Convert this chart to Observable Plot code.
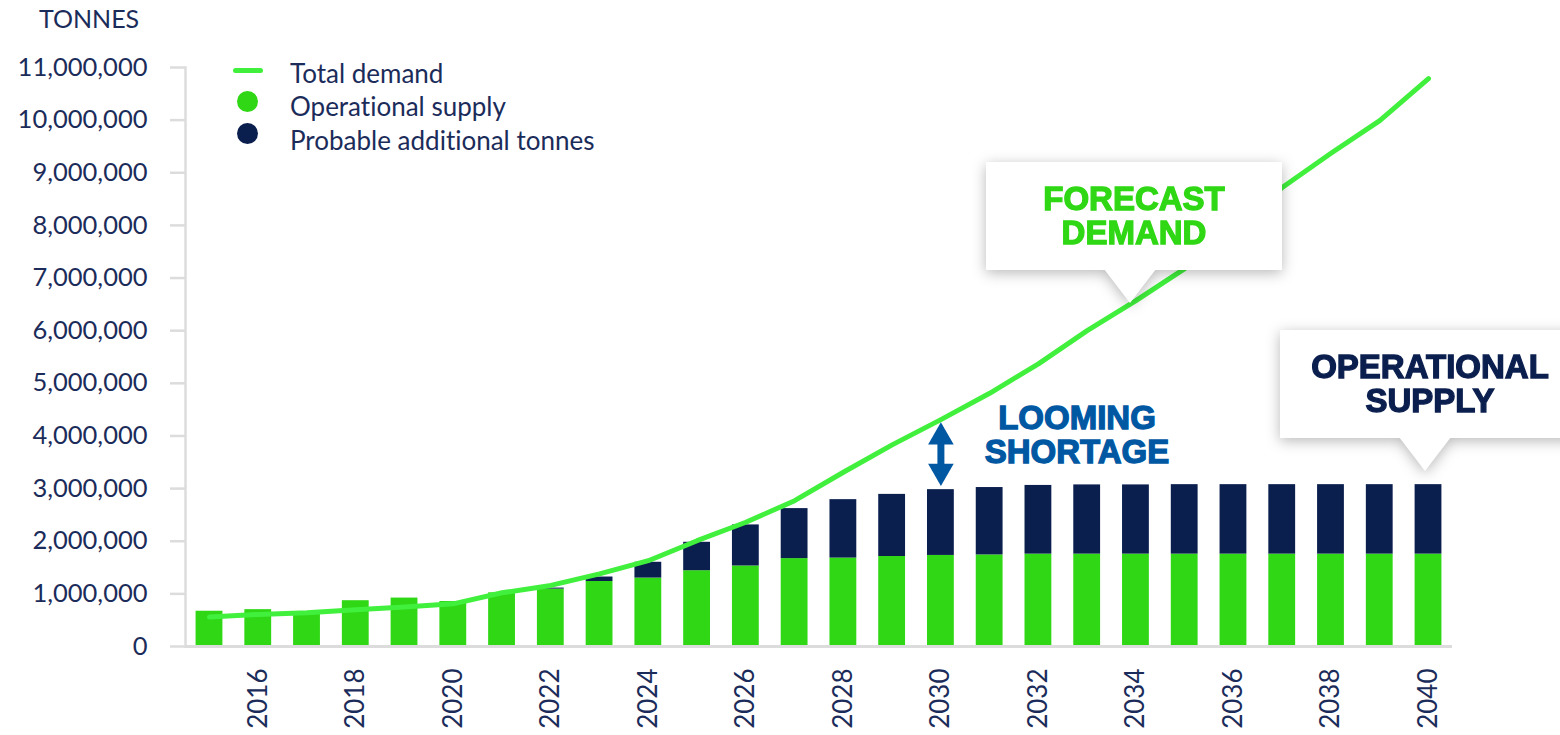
<!DOCTYPE html>
<html><head><meta charset="utf-8">
<script src="https://cdn.jsdelivr.net/npm/d3@7"></script>
<script src="https://cdn.jsdelivr.net/npm/@observablehq/plot@0.6"></script>
<style>
body{margin:0;background:#fff;}
#wrap{position:relative;width:1560px;height:735px;overflow:hidden;font-family:Lato,sans-serif;color:#1b2c5a;font-variant-ligatures:none;}
#chart{position:absolute;left:0;top:0;}
#chart svg{font-variant-ligatures:none;}
.abs{position:absolute;white-space:nowrap;}
.unit{left:39px;top:4px;font-size:25px;line-height:28px;}
.lgtext{left:290px;font-size:26px;line-height:28px;}
.swatch-line{left:233px;top:68px;width:30px;height:5px;border-radius:3px;}
.swatch-dot{left:237px;width:21px;height:21px;border-radius:50%;}
.callout{position:absolute;filter:drop-shadow(0 3px 7px rgba(0,0,0,0.28));}
.box{position:absolute;left:0;top:0;background:#fff;display:flex;flex-direction:column;align-items:center;justify-content:center;font-family:"Liberation Sans",Arial,sans-serif;font-weight:700;font-size:33px;line-height:34px;-webkit-text-stroke:1.3px currentColor;}
.ptr{position:absolute;background:#fff;clip-path:polygon(0 0,100% 0,50% 100%);}
.note{font-family:"Liberation Sans",Arial,sans-serif;font-weight:700;font-size:33px;line-height:34px;text-align:center;-webkit-text-stroke:1.3px currentColor;}
</style>
</head><body>
<div id="wrap">
  <div id="chart"></div>
</div>
<script>
// ---- data ----
const years = [2015,2016,2017,2018,2019,2020,2021,2022,2023,2024,2025,2026,2027,2028,2029,2030,2031,2032,2033,2034,2035,2036,2037,2038,2039,2040];
const operational = [670000,700000,625000,870000,920000,855000,1020000,1090000,1235000,1300000,1440000,1530000,1670000,1680000,1710000,1730000,1740000,1755000,1755000,1755000,1755000,1755000,1755000,1755000,1755000,1755000];
const probable = [0,0,0,0,0,0,0,20000,85000,300000,540000,780000,950000,1110000,1180000,1250000,1280000,1305000,1315000,1315000,1320000,1320000,1320000,1320000,1320000,1320000];
const demand = [560000,610000,640000,700000,750000,810000,1020000,1160000,1380000,1630000,2010000,2360000,2770000,3310000,3830000,4310000,4810000,5370000,6000000,6570000,7180000,7940000,8720000,9370000,9990000,10790000];
const xTickYears = [2016,2018,2020,2022,2024,2026,2028,2030,2032,2034,2036,2038,2040];
const yTicks = [0,1000000,2000000,3000000,4000000,5000000,6000000,7000000,8000000,9000000,10000000,11000000];
const seriesNames = ["Total demand","Operational supply","Probable additional tonnes"];
const unitLabel = "TONNES";
const shortageYear = 2030;
const callouts = [["FORECAST","DEMAND"],["OPERATIONAL","SUPPLY"],["LOOMING","SHORTAGE"]];

// ---- styles ----
const lineColor = "#40f03c";
const green = "#2fd714";
const navy = "#0b1f4f";
const blue = "#0058a3";
const textColor = "#1b2c5a";
const axisGray = "#dcdcdc";

const bars = years.flatMap((yr, i) => [
  {year: yr, series: seriesNames[1], value: operational[i]},
  {year: yr, series: seriesNames[2], value: probable[i]}
]);
const demandRows = years.map((yr, i) => ({year: yr, demand: demand[i]}));
const si = years.indexOf(shortageYear);
const gapRow = [{year: shortageYear, top: demand[si], bottom: operational[si] + probable[si]}];

const chart = Plot.plot({
  width: 1560, height: 735,
  marginLeft: 185, marginRight: 108, marginTop: 67, marginBottom: 89,
  style: {fontFamily: "Lato, sans-serif", color: textColor, background: "transparent"},
  x: {type: "band", domain: years, paddingInner: 0.45, paddingOuter: 0.217, align: 0.5, round: false},
  y: {domain: [0, 11000000]},
  color: {domain: [seriesNames[1], seriesNames[2]], range: [green, navy]},
  marks: [
    Plot.frame({anchor: "left", stroke: axisGray, strokeWidth: 2.5}),
    Plot.axisY({ticks: yTicks, tickSize: 15, tickPadding: 23, tickFormat: d3.format(","), fontSize: 25.5, stroke: axisGray, strokeWidth: 2.5, fill: textColor, label: null}),
    Plot.axisX({ticks: xTickYears, tickFormat: d => String(d), tickSize: 0, tickPadding: 22, tickRotate: -90, fontSize: 26, fill: textColor, label: null}),
    Plot.barY(bars, {x: "year", y: "value", fill: "series"}),
    Plot.ruleY([0], {stroke: axisGray, strokeWidth: 3}),
    Plot.line(demandRows, {x: "year", y: "demand", stroke: lineColor, strokeWidth: 5, strokeLinecap: "round", strokeLinejoin: "round"}),
    Plot.ruleX(gapRow, {x: "year", y1: "top", y2: "bottom", stroke: blue, strokeWidth: 7, insetTop: 22, insetBottom: 22}),
    Plot.dot(gapRow, {x: "year", y: "top", dy: 17.5, symbol: "triangle", r: 9.5, fill: blue, stroke: "none"}),
    Plot.dot(gapRow, {x: "year", y: "bottom", dy: -18.5, symbol: "triangle", rotate: 180, r: 9.5, fill: blue, stroke: "none"})
  ]
});
document.getElementById("chart").appendChild(chart);

// ---- overlays: unit label, legend, callouts ----
const wrap = document.getElementById("wrap");
function add(html) { wrap.insertAdjacentHTML("beforeend", html); }
add(`<div class="abs unit">${unitLabel}</div>`);
add(`<div class="abs swatch-line" style="background:${lineColor}"></div>`);
add(`<div class="abs swatch-dot" style="top:91px;background:${green}"></div>`);
add(`<div class="abs swatch-dot" style="top:123px;background:${navy}"></div>`);
add(`<div class="abs lgtext" style="top:59px">${seriesNames[0]}</div>`);
add(`<div class="abs lgtext" style="top:92px">${seriesNames[1]}</div>`);
add(`<div class="abs lgtext" style="top:126px">${seriesNames[2]}</div>`);

add(`<div class="callout" style="left:986px;top:162px;width:296px;height:141px;">
  <div class="box" style="width:296px;height:108px;color:${green}"><div>${callouts[0][0]}</div><div>${callouts[0][1]}</div></div>
  <div class="ptr" style="left:118px;top:107px;width:52px;height:34px;"></div>
</div>`);
add(`<div class="callout" style="left:1280px;top:330px;width:300px;height:142px;">
  <div class="box" style="width:300px;height:108px;color:${navy}"><div>${callouts[1][0]}</div><div>${callouts[1][1]}</div></div>
  <div class="ptr" style="left:119px;top:107px;width:52px;height:34px;"></div>
</div>`);
add(`<div class="abs note" style="left:960px;top:401px;width:234px;color:${blue}">${callouts[2][0]}<br>${callouts[2][1]}</div>`);
</script>
</body></html>
